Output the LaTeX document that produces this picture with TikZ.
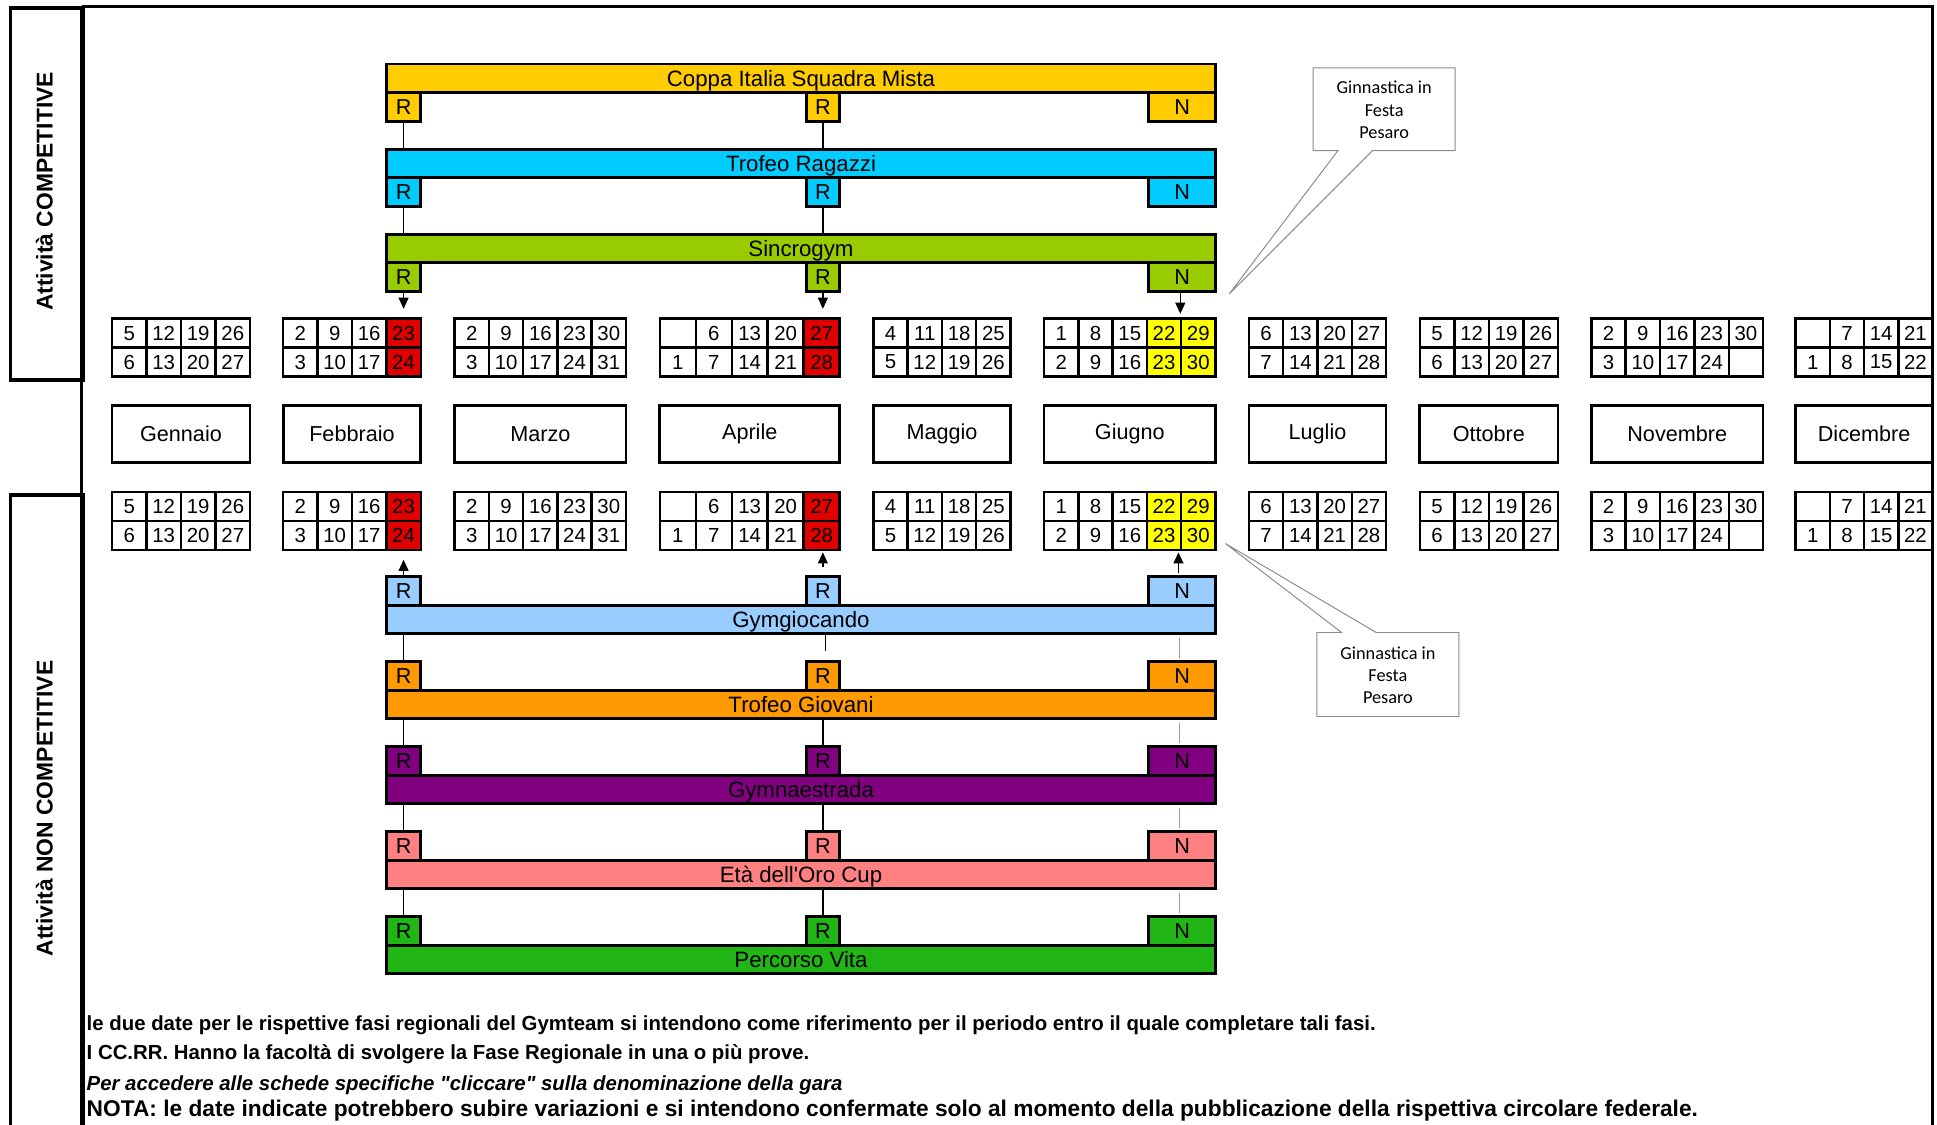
\documentclass[tikz,border=0pt]{standalone}
\usepackage{fontspec}
\setmainfont{Liberation Sans}[Ligatures=TeXOff]
\newfontfamily\calibrifont{Carlito}[Ligatures=TeXOff]
\usetikzlibrary{arrows.meta}

\definecolor{coppa}{HTML}{FFCC00}
\definecolor{ragazzi}{HTML}{00CCFF}
\definecolor{sincro}{HTML}{99CC00}
\definecolor{gymgio}{HTML}{99CCFF}
\definecolor{giovani}{HTML}{FF9900}
\definecolor{estrada}{HTML}{800080}
\definecolor{oro}{HTML}{FF8080}
\definecolor{vita}{HTML}{21B516}
\definecolor{redday}{HTML}{E00000}
\definecolor{yelday}{HTML}{FFFF00}
\definecolor{callgray}{HTML}{8C8C8C}

% id, x0, column width, y0, list top/bottom/fill
\newcommand\calmonth[5]{%
  \foreach \dtop/\dbot/\dfill [count=\ci from 0] in {#5} {%
    \node[calcell, minimum width=#3pt, fill=\dfill] (#1-t\ci) at ({#2+\ci*#3},{#4}) {\dtop};
    \node[calcell, minimum width=#3pt, fill=\dfill] (#1-b\ci) at ({#2+\ci*#3},{#4+23.4}) {\dbot};
  }%
}

\begin{document}
\begin{tikzpicture}[x=1pt,y=-1pt,
  calcell/.style={draw, line width=2pt, minimum height=23.4pt, inner sep=0pt, outer sep=0pt, anchor=north west, font=\fontsize{16.5}{18}\selectfont},
  monthbox/.style={draw, line width=2.2pt, minimum height=46pt, inner sep=0pt, outer sep=0pt, anchor=north west, font=\fontsize{17.5}{19}\selectfont},
  barbox/.style={draw, line width=2.4pt, minimum width=671.2pt, minimum height=22.8pt, inner sep=0pt, outer sep=0pt, anchor=north west, text height=13pt, text depth=0pt, font=\fontsize{18}{20}\selectfont},
  rbox/.style={draw, line width=2.4pt, minimum height=23.5pt, inner sep=0pt, outer sep=0pt, anchor=north west, font=\fontsize{17.5}{19}\selectfont},
  conn/.style={line width=1.1pt, black},
  nconn/.style={line width=1pt, black!40, shorten <=3pt, shorten >=3pt},
  arr/.style={line width=1.1pt, -{Triangle[length=9pt,width=8pt]}},
  callbox/.style={draw=callgray, line width=0.8pt, fill=white},
  calltext/.style={align=center, font=\calibrifont\fontsize{14.8}{18}\selectfont},
  notetext/.style={anchor=base west, inner sep=0pt, font=\bfseries\fontsize{16.5}{18}\selectfont},
  sidelabel/.style={rotate=90, inner sep=0pt, font=\bfseries\fontsize{18.5}{20}\selectfont}
]
\useasboundingbox (0,0) rectangle (1568,910);

% ---------- frame and side labels ----------
\draw[line width=2.6pt] (66,5) -- (1564.4,5) -- (1564.4,915);
\draw[line width=1.8pt] (66,5) -- (66,915);
\node[draw, line width=3pt, minimum width=59pt, minimum height=301pt, inner sep=0pt, anchor=north west] (boxC) at (7,5) {};
\node[draw, line width=3pt, minimum width=59pt, minimum height=530pt, inner sep=0pt, anchor=north west] (boxN) at (7,399.4) {};
\node[sidelabel] (labC) at (36,155) {Attività COMPETITIVE};
\node[sidelabel] (labN) at (36,654.5) {Attività NON COMPETITIVE};

% ---------- calendars ----------
\foreach \pre/\cy in {T/258, B/398.3} {
\calmonth{\pre Gen}{90.6}{27.95}{\cy}{5/6/white,12/13/white,19/20/white,26/27/white}
\calmonth{\pre Feb}{229.2}{27.85}{\cy}{2/3/white,9/10/white,16/17/white,23/24/redday}
\calmonth{\pre Mar}{368.1}{27.72}{\cy}{2/3/white,9/10/white,16/17/white,23/24/white,30/31/white}
\calmonth{\pre Apr}{534.1}{29.12}{\cy}{{}/1/white,6/7/white,13/14/white,20/21/white,27/28/redday}
\calmonth{\pre Mag}{707}{27.75}{\cy}{4/5/white,11/12/white,18/19/white,25/26/white}
\calmonth{\pre Giu}{845.2}{27.74}{\cy}{1/2/white,8/9/white,15/16/white,22/23/yelday,29/30/yelday}
\calmonth{\pre Lug}{1011}{27.75}{\cy}{6/7/white,13/14/white,20/21/white,27/28/white}
\calmonth{\pre Ott}{1149.3}{27.98}{\cy}{5/6/white,12/13/white,19/20/white,26/27/white}
\calmonth{\pre Nov}{1288.2}{27.8}{\cy}{2/3/white,9/10/white,16/17/white,23/24/white,30/{}/white}
\calmonth{\pre Dic}{1453.6}{27.7}{\cy}{{}/1/white,7/8/white,14/15/white,21/22/white}
}

% ---------- month names ----------
\node[monthbox, minimum width=111.8pt] (mGen) at (90.6,328.5) {Gennaio};
\node[monthbox, minimum width=111.4pt] (mFeb) at (229.2,328.5) {Febbraio};
\node[monthbox, minimum width=138.6pt] (mMar) at (368.1,328.5) {Marzo};
\node[monthbox, minimum width=145.6pt] (mApr) at (534.1,328.5) {Aprile};
\node[monthbox, minimum width=111pt] (mMag) at (707,328.5) {Maggio};
\node[monthbox, minimum width=138.7pt] (mGiu) at (845.2,328.5) {Giugno};
\node[monthbox, minimum width=111pt] (mLug) at (1011,328.5) {Luglio};
\node[monthbox, minimum width=111.9pt] (mOtt) at (1149.3,328.5) {Ottobre};
\node[monthbox, minimum width=139pt] (mNov) at (1288.2,328.5) {Novembre};
\node[monthbox, minimum width=110.8pt] (mDic) at (1453.6,328.5) {Dicembre};

% ---------- competitive activities ----------
\node[barbox, fill=coppa] (CoBar) at (312.8,51.8) {Coppa Italia Squadra Mista};
\node[rbox, fill=coppa, minimum width=27.8pt] (CoR1) at (312.8,74.6) {R};
\node[rbox, fill=coppa, minimum width=27.2pt] (CoR2) at (652.5,74.6) {R};
\node[rbox, fill=coppa, minimum width=54.1pt] (CoN) at (929.9,74.6) {N};

\node[barbox, fill=ragazzi] (TRBar) at (312.8,120.7) {Trofeo Ragazzi};
\node[rbox, fill=ragazzi, minimum width=27.8pt] (TRR1) at (312.8,143.5) {R};
\node[rbox, fill=ragazzi, minimum width=27.2pt] (TRR2) at (652.5,143.5) {R};
\node[rbox, fill=ragazzi, minimum width=54.1pt] (TRN) at (929.9,143.5) {N};

\node[barbox, fill=sincro] (SGBar) at (312.8,189.6) {Sincrogym};
\node[rbox, fill=sincro, minimum width=27.8pt] (SGR1) at (312.8,212.4) {R};
\node[rbox, fill=sincro, minimum width=27.2pt] (SGR2) at (652.5,212.4) {R};
\node[rbox, fill=sincro, minimum width=54.1pt] (SGN) at (929.9,212.4) {N};

\draw[conn] (CoR1.south) -- (CoR1.south |- TRBar.north);
\draw[conn] (CoR2.south) -- (CoR2.south |- TRBar.north);
\draw[conn] (TRR1.south) -- (TRR1.south |- SGBar.north);
\draw[conn] (TRR2.south) -- (TRR2.south |- SGBar.north);

\draw[arr, shorten >=8pt] (SGR1.south) -- (SGR1.south |- TFeb-t3.north);
\draw[arr, shorten >=8pt] (SGR2.south) -- (SGR2.south |- TApr-t4.north);
\draw[arr, shorten >=4pt] ([xshift=-1.5pt]SGN.south) -- ([xshift=-1.5pt]SGN.south |- TGiu-t4.north);

% ---------- non competitive activities ----------
\node[rbox, fill=gymgio, minimum width=27.8pt] (GgR1) at (312.8,466.8) {R};
\node[rbox, fill=gymgio, minimum width=27.2pt] (GgR2) at (652.5,466.8) {R};
\node[rbox, fill=gymgio, minimum width=54.1pt] (GgN) at (929.9,466.8) {N};
\node[barbox, fill=gymgio] (GgBar) at (312.8,490.3) {Gymgiocando};

\node[rbox, fill=giovani, minimum width=27.8pt] (TGR1) at (312.8,535.6) {R};
\node[rbox, fill=giovani, minimum width=27.2pt] (TGR2) at (652.5,535.6) {R};
\node[rbox, fill=giovani, minimum width=54.1pt] (TGN) at (929.9,535.6) {N};
\node[barbox, fill=giovani] (TGBar) at (312.8,559.1) {Trofeo Giovani};

\node[rbox, fill=estrada, minimum width=27.8pt] (GER1) at (312.8,604.4) {R};
\node[rbox, fill=estrada, minimum width=27.2pt] (GER2) at (652.5,604.4) {R};
\node[rbox, fill=estrada, minimum width=54.1pt] (GEN) at (929.9,604.4) {N};
\node[barbox, fill=estrada] (GEBar) at (312.8,627.9) {Gymnaestrada};

\node[rbox, fill=oro, minimum width=27.8pt] (OrR1) at (312.8,673.2) {R};
\node[rbox, fill=oro, minimum width=27.2pt] (OrR2) at (652.5,673.2) {R};
\node[rbox, fill=oro, minimum width=54.1pt] (OrN) at (929.9,673.2) {N};
\node[barbox, fill=oro] (OrBar) at (312.8,696.7) {Età dell'Oro Cup};

\node[rbox, fill=vita, minimum width=27.8pt] (PVR1) at (312.8,742) {R};
\node[rbox, fill=vita, minimum width=27.2pt] (PVR2) at (652.5,742) {R};
\node[rbox, fill=vita, minimum width=54.1pt] (PVN) at (929.9,742) {N};
\node[barbox, fill=vita] (PVBar) at (312.8,765.5) {Percorso Vita};

% arrows up to the calendars
\draw[arr, shorten >=8pt] (GgR1.north) -- (GgR1.north |- BFeb-b3.south);
\draw[arr, shorten >=2pt] ([yshift=8pt]GgR2.north) -- (GgR2.north |- BApr-b4.south);
\draw[arr, shorten >=2pt] ([xshift=-3pt,yshift=3pt]GgN.north) -- ([xshift=-3pt]GgN.north |- BGiu-b4.south);

% connectors between rows
\draw[conn] (GgBar.south -| GgR1) -- (TGR1.north);
\draw[conn] (TGBar.south -| TGR1) -- (GER1.north);
\draw[conn] (GEBar.south -| GER1) -- (OrR1.north);
\draw[conn] (OrBar.south -| OrR1) -- (PVR1.north);
\coordinate (GgStub) at ([xshift=2pt,yshift=-14pt]GgBar.south -| GgR2);
\draw[conn] ([xshift=2pt]GgBar.south -| GgR2) -- (GgStub);
\draw[conn] (TGBar.south -| TGR2) -- (GER2.north);
\draw[conn] (GEBar.south -| GER2) -- (OrR2.north);
\draw[conn] (OrBar.south -| OrR2) -- (PVR2.north);
\draw[nconn] ([xshift=-2pt]GgBar.south -| GgN) -- ([xshift=-2pt]TGN.north);
\draw[nconn] ([xshift=-2pt]TGBar.south -| TGN) -- ([xshift=-2pt]GEN.north);
\draw[nconn] ([xshift=-2pt]GEBar.south -| GEN) -- ([xshift=-2pt]OrN.north);
\draw[nconn] ([xshift=-2pt]OrBar.south -| OrN) -- ([xshift=-2pt]PVN.north);

% ---------- callouts ----------
\coordinate (tipA) at (995,238);
\draw[callbox] (1063,55) -- (1178,55) -- (1178,122) -- (1111,122) -- (tipA) -- (1083,122) -- (1063,122) -- cycle;
\node[calltext] (calA) at (1120.5,89) {Ginnastica in\\Festa\\Pesaro};
\coordinate (tipB) at (992,440);
\draw[callbox] (1066,512) -- (1086,512) -- (tipB) -- (1114,512) -- (1181,512) -- (1181,580) -- (1066,580) -- cycle;
\node[calltext] (calB) at (1123.5,546.5) {Ginnastica in\\Festa\\Pesaro};

% ---------- notes ----------
\node[notetext] (note1) at (70,834) {le due date per le rispettive fasi regionali del Gymteam si intendono come riferimento per il periodo entro il quale completare tali fasi.};
\node[notetext] (note2) at (70,858) {I CC.RR. Hanno la facoltà di svolgere la Fase Regionale in una o più prove.};
\node[notetext, font=\bfseries\itshape\fontsize{16.5}{18}\selectfont] (note3) at (70,882.4) {Per accedere alle schede specifiche "cliccare" sulla denominazione della gara};
\node[notetext, font=\bfseries\fontsize{18.4}{20}\selectfont] (note4) at (70,903.6) {NOTA: le date indicate potrebbero subire variazioni e si intendono confermate solo al momento della pubblicazione della rispettiva circolare federale.};
\end{tikzpicture}
\end{document}
